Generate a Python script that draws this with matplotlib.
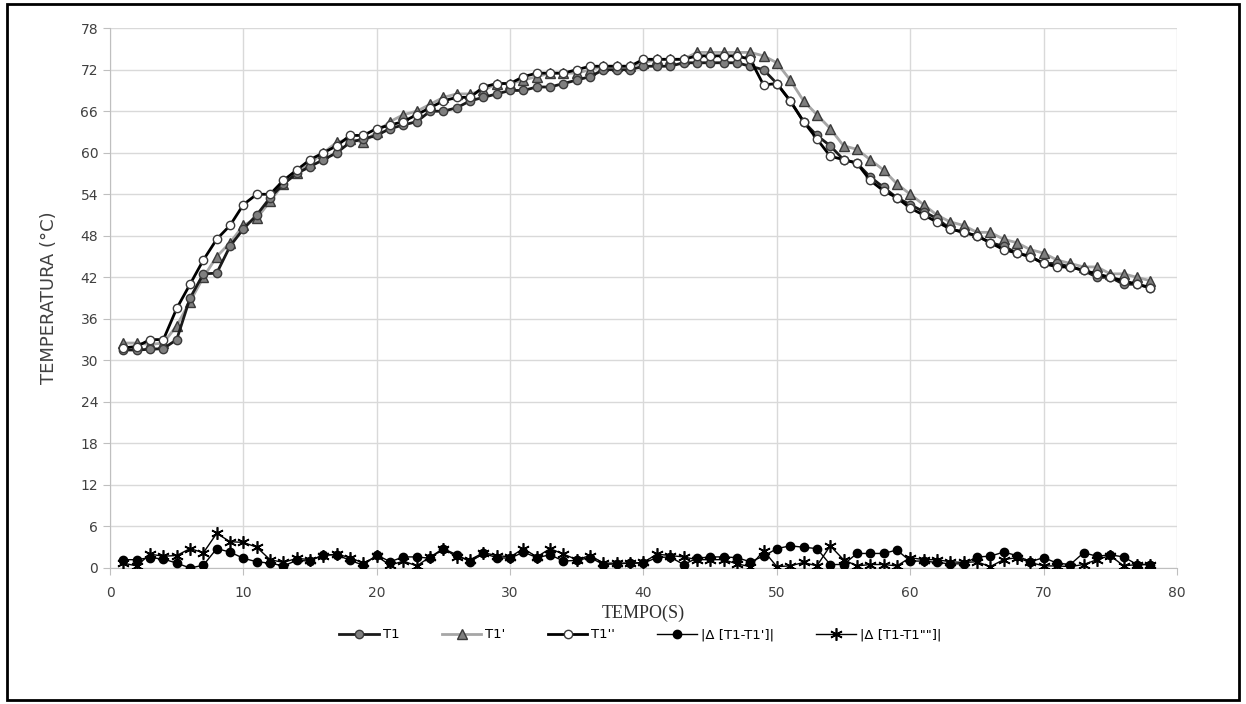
import matplotlib.pyplot as plt
import numpy as np

# tempo (s)
tempo = list(range(1, 79))

# T1 - circulos cinzas
t1 = [31.5, 31.5, 31.6, 31.7, 33.0, 39.0, 42.5, 42.6, 46.5, 49.0,
      51.0, 53.5, 55.5, 57.0, 58.0, 59.0, 60.0, 61.5, 62.0, 62.5,
      63.5, 64.0, 64.5, 66.0, 66.0, 66.5, 67.5, 68.0, 68.5, 69.0,
      69.0, 69.5, 69.5, 70.0, 70.5, 71.0, 72.0, 72.0, 72.0, 72.5,
      72.5, 72.5, 73.0, 73.0, 73.0, 73.0, 73.0, 72.5, 72.0, 70.0,
      67.5, 64.5, 62.5, 61.0, 59.0, 58.5, 56.5, 55.0, 53.5, 52.5,
      51.5, 50.5, 49.0, 48.5, 48.0, 47.0, 46.5, 45.5, 45.0, 44.0,
      44.0, 43.5, 43.0, 42.0, 42.0, 41.0, 41.0, 40.5]

# T1' - triangulos
t1_p = [32.5, 32.5, 32.3, 32.5, 35.0, 38.5, 42.0, 45.0, 47.0, 49.5,
        50.5, 53.0, 55.5, 57.0, 58.5, 60.0, 61.5, 62.0, 61.5, 63.0,
        64.5, 65.5, 66.0, 67.0, 68.0, 68.5, 68.5, 69.0, 70.0, 70.0,
        70.5, 71.0, 71.5, 71.5, 71.5, 72.0, 72.5, 72.5, 72.5, 73.0,
        73.5, 73.5, 73.5, 74.5, 74.5, 74.5, 74.5, 74.5, 74.0, 73.0,
        70.5, 67.5, 65.5, 63.5, 61.0, 60.5, 59.0, 57.5, 55.5, 54.0,
        52.5, 51.0, 50.0, 49.5, 48.5, 48.5, 47.5, 47.0, 46.0, 45.5,
        44.5, 44.0, 43.5, 43.5, 42.5, 42.5, 42.0, 41.5]

# T1'' - circulos abertos
t1_pp = [31.8, 32.0, 33.0, 33.0, 37.5, 41.0, 44.5, 47.5, 49.5, 52.5,
         54.0, 54.0, 56.0, 57.5, 59.0, 60.0, 61.0, 62.5, 62.5, 63.5,
         64.0, 64.5, 65.5, 66.5, 67.5, 68.0, 68.0, 69.5, 70.0, 70.0,
         71.0, 71.5, 71.5, 71.5, 72.0, 72.5, 72.5, 72.5, 72.5, 73.5,
         73.5, 73.5, 73.5, 74.0, 74.0, 74.0, 74.0, 73.5, 69.8, 70.0,
         67.5, 64.5, 62.0, 59.5, 59.0, 58.5, 56.0, 54.5, 53.5, 52.0,
         51.0, 50.0, 49.0, 48.5, 48.0, 47.0, 46.0, 45.5, 45.0, 44.0,
         43.5, 43.5, 43.0, 42.5, 42.0, 41.5, 41.0, 40.5]

# |d [T1-T1']|
d1 = [1.2, 1.2, 1.5, 1.3, 0.7, 0.0, 0.4, 2.8, 2.3, 1.4,
      0.9, 0.7, 0.3, 1.1, 1.0, 1.9, 1.9, 1.1, 0.4, 1.9,
      0.9, 1.6, 1.6, 1.4, 2.8, 1.9, 0.9, 2.1, 1.5, 1.4,
      2.3, 1.5, 1.9, 1.0, 1.1, 1.5, 0.5, 0.6, 0.7, 0.7,
      1.5, 1.6, 0.5, 1.4, 1.6, 1.6, 1.5, 0.9, 1.7, 2.8,
      3.2, 3.0, 2.8, 0.5, 0.5, 2.1, 2.1, 2.1, 2.6, 1.0,
      1.0, 0.8, 0.6, 0.6, 1.6, 1.7, 2.3, 1.8, 0.9, 1.5,
      0.7, 0.5, 2.2, 1.7, 1.9, 1.6, 0.5, 0.5]

# |d [T1-T1'']|
d2 = [0.7, 0.3, 2.0, 1.7, 1.8, 2.8, 2.2, 5.0, 3.8, 3.7,
      3.0, 1.2, 0.8, 1.4, 1.2, 1.8, 2.0, 1.5, 0.7, 1.7,
      0.4, 1.0, 0.3, 1.6, 2.8, 1.6, 1.2, 2.2, 1.8, 1.6,
      2.8, 1.6, 2.8, 2.0, 1.2, 1.8, 0.7, 0.7, 0.7, 0.8,
      2.0, 1.8, 1.6, 1.2, 1.2, 1.2, 0.6, 0.2, 2.5, 0.2,
      0.3, 0.8, 0.3, 3.2, 1.2, 0.3, 0.5, 0.5, 0.3, 1.5,
      1.2, 1.2, 0.9, 0.8, 0.9, 0.2, 1.2, 1.5, 0.8, 0.3,
      0.3, 0.2, 0.5, 1.2, 1.8, 0.3, 0.5, 0.5]

fig = plt.figure(figsize=(12.46, 7.04), dpi=100)
ax = fig.add_axes([0.0883, 0.1932, 0.8563, 0.7668])

# moldura preta da figura
fig.patches.append(plt.Rectangle((0.006, 0.006), 0.988, 0.988, transform=fig.transFigure,
                                 fill=False, edgecolor='black', linewidth=2))

ax.plot(tempo, t1, color='#1a1a1a', lw=2, marker='o', ms=6,
        mfc='#7f7f7f', mec='#3a3a3a', mew=1, label='T1', zorder=3)
ax.plot(tempo, t1_p, color='#a6a6a6', lw=2, marker='^', ms=7,
        mfc='#7f7f7f', mec='#3a3a3a', mew=1, label="T1'", zorder=2)
ax.plot(tempo, t1_pp, color='black', lw=2, marker='o', ms=6,
        mfc='white', mec='#3a3a3a', mew=1, label="T1''", zorder=4)
ax.plot(tempo, d1, color='black', lw=1, marker='o', ms=6,
        mfc='black', mec='black', label="|Δ [T1-T1']|", zorder=3)
ax.plot(tempo, d2, color='black', lw=1, marker=(6, 2, 0), ms=9,
        mec='black', mew=1.2, label='|Δ [T1-T1""]|', zorder=3)

ax.set_xlim(0, 80)
ax.set_ylim(0, 78)
ax.set_xticks(np.arange(0, 81, 10))
ax.set_yticks(np.arange(0, 79, 6))
ax.grid(True, color='#d9d9d9', lw=1)
ax.set_axisbelow(True)
for s in ['top', 'right']:
    ax.spines[s].set_visible(False)
for s in ['left', 'bottom']:
    ax.spines[s].set_color('#bfbfbf')
ax.tick_params(axis='both', colors='#bfbfbf', length=5, labelcolor='#404040', labelsize=10)
ax.tick_params(axis='x', pad=8)

ax.set_ylabel('TEMPERATURA (°C)', fontsize=13, color='#404040', labelpad=16)
ax.set_xlabel('TEMPO(S)', fontsize=13, family='Liberation Serif', color='#303030', labelpad=3)

ax.legend(loc='upper center', bbox_to_anchor=(0.497, -0.09), ncol=5, frameon=False,
          fontsize=9.5, handlelength=3.0, columnspacing=3.2, handletextpad=0.3)

fig.savefig('out.png', dpi=100)
